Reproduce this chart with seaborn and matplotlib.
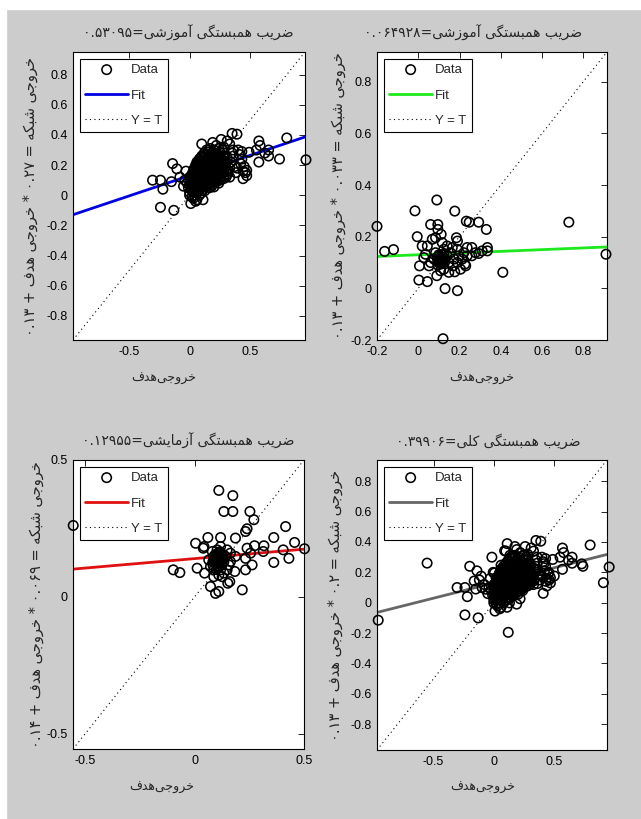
import re
import numpy as np
import matplotlib
matplotlib.use("Agg")
import matplotlib.pyplot as plt
import seaborn as sns

# ---- data ----
# training set (top left)
train_x = [-0.305, -0.24, -0.22, -0.24, -0.14, -0.13, -0.105, -0.15, -0.08, -0.05,
           0.39, 0.57, 0.58, 0.65, 0.74, 0.80, 0.958, 0.57, 0.65, 0.49,
           0.47, 0.47, 0.43, 0.45, 0.44, 0.55, 0.62, 0.40, 0.42, 0.38,
           0.01, 0.11, 0.03, 0.00, 0.05, 0.08, 0.02, -0.02, 0.00, -0.03,
           0.10, 0.19, 0.26, 0.31, 0.35, 0.22, 0.28, 0.33, 0.16, 0.36,
           0.34, 0.36, 0.37, 0.33, 0.35, 0.41, 0.39, 0.44, 0.46, 0.43,
           -0.04, 0.00, 0.02, 0.04, 0.06, -0.01,
           0.035, 0.065, 0.095, 0.125,
           0.01, 0.04, 0.07, 0.10, 0.135, 0.165, 0.20,
           0.00, 0.03, 0.055, 0.085, 0.11, 0.14, 0.17, 0.20, 0.24,
           0.02, 0.05, 0.07, 0.095, 0.12, 0.15, 0.18, 0.21, 0.25, 0.28,
           0.01, 0.04, 0.06, 0.08, 0.10, 0.13, 0.16, 0.19, 0.22, 0.26, 0.30,
           0.02, 0.05, 0.07, 0.09, 0.11, 0.14, 0.17, 0.20, 0.23, 0.27, 0.31,
           0.03, 0.06, 0.08, 0.10, 0.12, 0.15, 0.18, 0.21, 0.24, 0.28, 0.32,
           0.04, 0.07, 0.09, 0.11, 0.13, 0.16, 0.19, 0.22, 0.25, 0.29, 0.33,
           0.05, 0.08, 0.10, 0.12, 0.15, 0.18, 0.21, 0.24, 0.27, 0.30,
           0.06, 0.09, 0.12, 0.14, 0.17, 0.20, 0.23, 0.26, 0.30,
           0.08, 0.11, 0.14, 0.17, 0.20, 0.23, 0.27, 0.31,
           0.10, 0.13, 0.16, 0.19, 0.22, 0.25, 0.29,
           0.12, 0.15, 0.18, 0.21, 0.25, 0.28,
           0.035, 0.085, 0.135, 0.185, 0.235,
           0.045, 0.095, 0.145, 0.195, 0.245,
           0.065, 0.115, 0.165, 0.215, 0.265,
           0.10, 0.15, 0.20, 0.25,
           0.025, 0.075, 0.125, 0.175,
           0.015, 0.045, 0.075, 0.105, 0.13, 0.155, 0.19, 0.225,
           0.025, 0.055, 0.085, 0.115, 0.145, 0.175, 0.205, 0.24, 0.285,
           0.035, 0.065, 0.095, 0.125, 0.155, 0.185, 0.215, 0.25, 0.30,
           0.065, 0.095, 0.125, 0.16, 0.19, 0.22, 0.255, 0.29,
           0.095, 0.125, 0.155, 0.185, 0.215, 0.245, 0.28,
           0.14, 0.17, 0.20, 0.24, 0.27,
           0.02, 0.05, 0.08, 0.11,
           0.035, 0.065, 0.11, 0.135, 0.165, 0.195, 0.23,
           0.035, 0.06, 0.10, 0.125, 0.155, 0.185, 0.215, 0.25,
           0.055, 0.08, 0.12, 0.145, 0.175, 0.205, 0.235, 0.27,
           0.075, 0.105, 0.13, 0.155, 0.185, 0.215, 0.245, 0.28,
           0.02, 0.05, 0.085, 0.115, 0.15, 0.18]
train_y = [0.10, 0.10, 0.04, -0.08, 0.21, -0.10, 0.175, 0.09, 0.12, 0.06,
           0.405, 0.36, 0.33, 0.30, 0.24, 0.38, 0.235, 0.22, 0.26, 0.285,
           0.13, 0.165, 0.24, 0.19, 0.11, 0.30, 0.28, 0.30, 0.21, 0.15,
           -0.055, -0.03, -0.02, 0.02, -0.04, 0.00, 0.04, 0.08, 0.12, 0.16,
           0.34, 0.35, 0.37, 0.36, 0.41, 0.33, 0.32, 0.34, 0.30, 0.30,
           0.22, 0.26, 0.19, 0.12, 0.28, 0.27, 0.18, 0.16, 0.15, 0.29,
           0.10, 0.00, -0.01, 0.00, -0.03, 0.05,
           0.02, 0.025, 0.015, 0.03,
           0.05, 0.055, 0.045, 0.05, 0.06, 0.05, 0.055,
           0.08, 0.075, 0.085, 0.08, 0.075, 0.085, 0.08, 0.09, 0.08,
           0.10, 0.105, 0.095, 0.10, 0.105, 0.10, 0.095, 0.105, 0.10, 0.11,
           0.12, 0.125, 0.115, 0.12, 0.125, 0.12, 0.115, 0.125, 0.12, 0.125, 0.12,
           0.14, 0.145, 0.135, 0.14, 0.145, 0.14, 0.135, 0.145, 0.14, 0.145, 0.14,
           0.16, 0.165, 0.155, 0.16, 0.165, 0.16, 0.155, 0.165, 0.16, 0.165, 0.16,
           0.18, 0.185, 0.175, 0.18, 0.185, 0.18, 0.175, 0.185, 0.18, 0.185, 0.18,
           0.20, 0.205, 0.195, 0.20, 0.205, 0.20, 0.195, 0.205, 0.20, 0.21,
           0.22, 0.225, 0.215, 0.22, 0.225, 0.22, 0.215, 0.225, 0.22,
           0.24, 0.245, 0.235, 0.24, 0.245, 0.24, 0.235, 0.245,
           0.26, 0.265, 0.255, 0.26, 0.265, 0.26, 0.255,
           0.28, 0.285, 0.275, 0.28, 0.285, 0.28,
           0.11, 0.11, 0.11, 0.11, 0.11,
           0.15, 0.15, 0.15, 0.15, 0.15,
           0.19, 0.19, 0.19, 0.19, 0.19,
           0.23, 0.23, 0.23, 0.23,
           0.07, 0.07, 0.07, 0.07,
           0.09, 0.092, 0.088, 0.09, 0.093, 0.087, 0.09, 0.092,
           0.13, 0.132, 0.128, 0.13, 0.133, 0.127, 0.13, 0.132, 0.128,
           0.17, 0.172, 0.168, 0.17, 0.173, 0.167, 0.17, 0.172, 0.168,
           0.21, 0.212, 0.208, 0.21, 0.213, 0.207, 0.21, 0.212,
           0.25, 0.252, 0.248, 0.25, 0.253, 0.247, 0.25,
           0.30, 0.31, 0.30, 0.31, 0.30,
           0.03, 0.035, 0.03, 0.035,
           0.102, 0.098, 0.101, 0.099, 0.102, 0.098, 0.101,
           0.142, 0.138, 0.141, 0.139, 0.142, 0.138, 0.141, 0.139,
           0.182, 0.178, 0.181, 0.179, 0.182, 0.178, 0.181, 0.179,
           0.222, 0.218, 0.221, 0.219, 0.222, 0.218, 0.221, 0.219,
           0.062, 0.058, 0.061, 0.059, 0.062, 0.058]

# validation set (top right)
val_x = [-0.2, -0.163, -0.12, -0.016, -0.005, 0.006, 0.003, 0.044, 0.09, 0.06,
         0.095, 0.095, 0.09, 0.13, 0.12, 0.177, 0.19, 0.177, 0.185, 0.19,
         0.233, 0.247, 0.293, 0.33, 0.335, 0.335, 0.31, 0.293, 0.26, 0.237,
         0.226, 0.23, 0.41, 0.73, 0.91, 0.10, 0.116, 0.127, 0.108, 0.14,
         0.148, 0.156, 0.124, 0.084, 0.076, 0.06, 0.052, 0.035, 0.027, 0.019,
         0.044, 0.068, 0.084, 0.111, 0.116, 0.14, 0.165, 0.173, 0.189, 0.197,
         0.213, 0.221, 0.189, 0.169, 0.124, 0.108, 0.148, 0.205, 0.237, 0.26,
         0.277, 0.105, 0.095, 0.115, 0.10, 0.12,
         0.10, 0.11, 0.12, 0.105, 0.09, 0.115, 0.13, 0.095, 0.11, 0.125]
val_y = [0.24, 0.143, 0.15, 0.30, 0.20, 0.087, 0.032, 0.026, 0.342, 0.247,
         0.247, 0.228, 0.049, -0.001, -0.195, 0.299, -0.009, 0.064, 0.196, 0.183,
         0.26, 0.256, 0.256, 0.228, 0.158, 0.145, 0.145, 0.135, 0.158, 0.126,
         0.094, 0.087, 0.062, 0.256, 0.132, 0.126, 0.119, 0.113, 0.10, 0.126,
         0.10, 0.138, 0.151, 0.138, 0.113, 0.10, 0.087, 0.132, 0.119, 0.164,
         0.164, 0.19, 0.196, 0.209, 0.177, 0.164, 0.158, 0.113, 0.10, 0.126,
         0.113, 0.138, 0.151, 0.087, 0.074, 0.068, 0.062, 0.074, 0.158, 0.126,
         0.138, 0.115, 0.105, 0.095, 0.13, 0.11,
         0.11, 0.12, 0.10, 0.095, 0.12, 0.13, 0.115, 0.09, 0.105, 0.135]

# test set (bottom left)
test_x = [-0.554, -0.097, -0.067, 0.005, 0.012, 0.043, 0.061, 0.111, 0.175, 0.134,
          0.175, 0.119, 0.187, 0.253, 0.271, 0.24, 0.233, 0.24, 0.274, 0.317,
          0.314, 0.362, 0.362, 0.416, 0.405, 0.431, 0.457, 0.502, 0.218, 0.256,
          0.263, 0.233, 0.233, 0.187, 0.184, 0.161, 0.152, 0.111, 0.096, 0.073,
          0.046, 0.04, 0.088, 0.103, 0.119, 0.111, 0.096, 0.126, 0.103, 0.088,
          0.119, 0.134, 0.142, 0.149, 0.164, 0.157, 0.134, 0.111, 0.088, 0.073,
          0.065, 0.081, 0.103, 0.119, 0.126, 0.149, 0.164, 0.096, 0.111, 0.10,
          0.122, 0.084, 0.131, 0.107,
          0.09, 0.10, 0.115, 0.105, 0.095, 0.12, 0.11, 0.10, 0.125, 0.085, 0.115, 0.13]
test_y = [0.261, 0.099, 0.089, 0.196, 0.105, 0.184, 0.217, 0.389, 0.37, 0.312,
          0.312, 0.217, 0.215, 0.312, 0.282, 0.249, 0.239, 0.178, 0.187, 0.187,
          0.166, 0.217, 0.126, 0.257, 0.172, 0.141, 0.199, 0.176, 0.026, 0.16,
          0.117, 0.099, 0.141, 0.148, 0.093, 0.056, 0.05, 0.02, 0.013, 0.038,
          0.087, 0.178, 0.148, 0.135, 0.141, 0.16, 0.123, 0.117, 0.111, 0.099,
          0.099, 0.129, 0.148, 0.172, 0.16, 0.117, 0.087, 0.08, 0.074, 0.111,
          0.135, 0.166, 0.172, 0.184, 0.074, 0.099, 0.129, 0.141, 0.129, 0.151,
          0.157, 0.129, 0.138, 0.12,
          0.13, 0.145, 0.135, 0.125, 0.155, 0.15, 0.11, 0.10, 0.125, 0.115, 0.165, 0.155]

# points that only show up in the "all" panel
extra_x = [-0.96]
extra_y = [-0.115]

titles = ["ضریب همبستگی آموزشی=۰.۵۳۰۹۵",
          "ضریب همبستگی آموزشی=۰.۰۶۴۹۲۸",
          "ضریب همبستگی آزمایشی=۰.۱۲۹۵۵",
          "ضریب همبستگی کلی=۰.۳۹۹۰۶"]
ylabels = ["خروجی شبکه = ۰.۲۷ * خروجی هدف + ۰.۱۳",
           "خروجی شبکه = ۰.۰۳۳ * خروجی هدف + ۰.۱۳",
           "خروجی شبکه = ۰.۰۶۹ * خروجی هدف + ۰.۱۴",
           "خروجی شبکه = ۰.۲ * خروجی هدف + ۰.۱۳"]
xlabel = "خروجی\u200cهدف"
slopes = [0.27, 0.033, 0.069, 0.2]
intercepts = [0.13, 0.13, 0.14, 0.13]
fit_colors = ["#0000e0", "#1ee81e", "#e01010", "#666666"]
limits = [(-0.96, 0.95), (-0.2, 0.915), (-0.555, 0.5), (-0.97, 0.94)]
xticks = [[-0.5, 0, 0.5], [-0.2, 0, 0.2, 0.4, 0.6, 0.8], [-0.5, 0, 0.5], [-0.5, 0, 0.5]]
yticks = [[-0.8, -0.6, -0.4, -0.2, 0, 0.2, 0.4, 0.6, 0.8],
          [-0.2, 0, 0.2, 0.4, 0.6, 0.8],
          [-0.5, 0, 0.5],
          [-0.8, -0.6, -0.4, -0.2, 0, 0.2, 0.4, 0.6, 0.8]]

# ---- poor man's Persian shaping (matplotlib has no bidi / joining) ----
FORMS = {
    "\u0627": "\uFE8D\uFE8E", "\u0622": "\uFE81\uFE82", "\u062F": "\uFEA9\uFEAA",
    "\u0631": "\uFEAD\uFEAE", "\u0632": "\uFEAF\uFEB0", "\u0648": "\uFEED\uFEEE",
    "\u0628": "\uFE8F\uFE90\uFE91\uFE92", "\u062A": "\uFE95\uFE96\uFE97\uFE98",
    "\u062C": "\uFE9D\uFE9E\uFE9F\uFEA0", "\u062E": "\uFEA5\uFEA6\uFEA7\uFEA8",
    "\u0633": "\uFEB1\uFEB2\uFEB3\uFEB4", "\u0634": "\uFEB5\uFEB6\uFEB7\uFEB8",
    "\u0636": "\uFEBD\uFEBE\uFEBF\uFEC0", "\u0641": "\uFED1\uFED2\uFED3\uFED4",
    "\u0644": "\uFEDD\uFEDE\uFEDF\uFEE0", "\u0645": "\uFEE1\uFEE2\uFEE3\uFEE4",
    "\u0647": "\uFEE9\uFEEA\uFEEB\uFEEC", "\u06A9": "\uFB8E\uFB8F\uFB90\uFB91",
    "\u06AF": "\uFB92\uFB93\uFB94\uFB95", "\u06CC": "\uFBFC\uFBFD\uFBFE\uFBFF",
}


def fa(s):
    s = s.replace("\u064A", "\u06CC").replace("\u0643", "\u06A9")
    out = []
    for i, c in enumerate(s):
        f = FORMS.get(c)
        if f is None:
            out.append(c)
            continue
        p = s[i - 1] if i > 0 else ""
        n = s[i + 1] if i + 1 < len(s) else ""
        jp = p in FORMS and len(FORMS[p]) == 4
        jn = len(f) == 4 and n in FORMS
        if jp and jn:
            out.append(f[3])
        elif jp:
            out.append(f[1])
        elif jn:
            out.append(f[2])
        else:
            out.append(f[0])
    v = "".join(out).replace("\u200c", "")[::-1]
    return re.sub(r"[۰-۹.]+", lambda m: m.group(0)[::-1], v)


sns.set_style("white")
plt.rcParams["font.family"] = ["Liberation Sans", "DejaVu Sans"]
plt.rcParams["axes.unicode_minus"] = False

all_x = train_x + val_x + test_x + extra_x
all_y = train_y + val_y + test_y + extra_y
sets = [(train_x, train_y), (val_x, val_y), (test_x, test_y), (all_x, all_y)]

W, H = 641, 819
boxes = [(73, 52, 305, 340), (377, 52, 607, 340), (73, 460, 304, 749), (377, 460, 607, 750)]
ylab_x = [30, 338, 36, 335]
xlab_x = [164, 482, 162, 483]
title_x = [188, 473, 188, 488]
fa_font = "DejaVu Sans"

fig = plt.figure(figsize=(W / 100, H / 100), dpi=100, facecolor="#cccccc")
fig.add_artist(plt.Rectangle((0, 1 - 9 / H), 1, 9 / H, transform=fig.transFigure,
                             color="white", zorder=0))
fig.add_artist(plt.Rectangle((0, 0), 6 / W, 1, transform=fig.transFigure,
                             color="white", zorder=0))

for k in range(4):
    l, t, r, b = boxes[k]
    ax = fig.add_axes([l / W, 1 - b / H, (r - l) / W, (b - t) / H])
    ax.set_facecolor("white")
    lo, hi = limits[k]
    xs, ys = sets[k]

    sns.lineplot(x=[lo, hi], y=[lo, hi], ax=ax, color="k", lw=0.8,
                 linestyle=(0, (1, 3)), label="Y = T", zorder=1)
    fx = [lo, hi]
    fy = [slopes[k] * v + intercepts[k] for v in fx]
    sns.lineplot(x=fx, y=fy, ax=ax, color=fit_colors[k], lw=2, label="Fit", zorder=2)
    sns.scatterplot(x=xs, y=ys, ax=ax, marker="o", s=46, facecolor="none",
                    edgecolor="k", linewidth=1.15, label="Data", zorder=3, clip_on=False)

    ax.set_xlim(lo, hi)
    ax.set_ylim(lo, hi)
    ax.set_xticks(xticks[k])
    ax.set_xticklabels([f"{v:g}" for v in xticks[k]])
    ax.set_yticks(yticks[k])
    ax.set_yticklabels([f"{v:g}" for v in yticks[k]])
    ax.tick_params(direction="in", length=4, width=0.6, top=True, right=True,
                   labelsize=9, pad=4, colors="k")
    for sp in ax.spines.values():
        sp.set_color("k")
        sp.set_linewidth(0.8)

    h, lab = ax.get_legend_handles_labels()
    order = [lab.index("Data"), lab.index("Fit"), lab.index("Y = T")]
    leg = ax.legend([h[i] for i in order], [lab[i] for i in order], loc="upper left",
                    fontsize=9.5, frameon=True, fancybox=False, edgecolor="k",
                    framealpha=1, handlelength=3.3, handletextpad=0.2,
                    labelspacing=1.0, borderpad=0.4, borderaxespad=0.5)
    leg.get_frame().set_linewidth(0.8)

    ax.text((title_x[k] - l) / (r - l), 1 + 19 / (b - t), fa(titles[k]),
            transform=ax.transAxes, ha="center", va="center", fontsize=10,
            family=fa_font)
    ax.text((xlab_x[k] - l) / (r - l), -38 / (b - t), fa(xlabel),
            transform=ax.transAxes, ha="center", va="center", fontsize=9,
            family=fa_font)
    ax.text((ylab_x[k] - l) / (r - l), 0.5, fa(ylabels[k]), rotation=90,
            transform=ax.transAxes, ha="center", va="center", fontsize=10.5,
            family=fa_font)

fig.savefig("out.png", dpi=100, facecolor=fig.get_facecolor())
